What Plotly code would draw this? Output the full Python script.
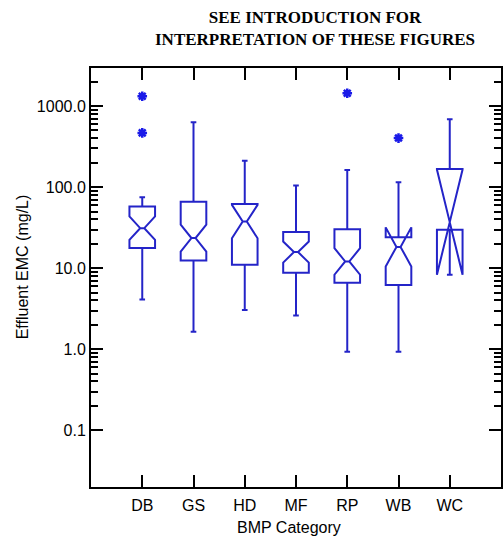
import numpy as np
import plotly.graph_objects as go

# ---- data (mg/L) ----
categories = ["DB", "GS", "HD", "MF", "RP", "WB", "WC"]
lower_whisker = [4.1, 1.64, 3.05, 2.6, 0.93, 0.93, 24.2]
q1_vals = [17.7, 12.4, 11.0, 8.8, 6.6, 6.2, 29.7]
median_vals = [31.2, 23.5, 37.6, 15.8, 12.1, 18.3, 37.0]
q3_vals = [57.6, 66.0, 62.0, 28.0, 30.3, 24.1, 167.0]
upper_whisker = [75.0, 630.0, 211.0, 105.0, 163.0, 115.0, 690.0]
notch_low = [22.4, 16.0, 23.4, 11.7, 8.3, 10.5, 8.3]
outlier_cats = ["DB", "DB", "RP", "WB"]
outlier_vals = [1320.0, 467.0, 1440.0, 403.0]
major_tick_vals = [0.1, 1.0, 10.0, 100.0, 1000.0]
major_tick_text = ["0.1", "1.0", "10.0", "100.0", "1000.0"]
minor_tick_vals = [m * 10.0 ** k for k in range(-1, 3) for m in range(2, 10)] + [2000.0]

BLUE = "#2424c8"
lg = np.log10

fig = go.Figure()
for i, cat in enumerate(categories):
    span = float(lg(median_vals[i]) - lg(notch_low[i]))
    fig.add_trace(go.Box(
        x=[cat],
        q1=[float(lg(q1_vals[i]))],
        median=[float(lg(median_vals[i]))],
        q3=[float(lg(q3_vals[i]))],
        lowerfence=[float(lg(lower_whisker[i]))],
        upperfence=[float(lg(upper_whisker[i]))],
        notchspan=[span],
        notched=True,
        notchwidth=0.5 if cat == "WC" else 0.42,
        whiskerwidth=0.22,
        width=0.5,
        boxpoints=False,
        fillcolor="rgba(0,0,0,0)",
        line=dict(color=BLUE, width=2),
        showlegend=False,
    ))

fig.add_trace(go.Scatter(
    x=outlier_cats, y=lg(np.array(outlier_vals)),
    mode="markers",
    marker=dict(symbol="asterisk-open", size=8, color="#1a1ae8",
                line=dict(color="#1a1ae8", width=2.5)),
    showlegend=False,
))

axis_font = dict(family="Liberation Sans, Arial, sans-serif", size=16, color="black")

fig.update_layout(
    width=504, height=538,
    margin=dict(l=91, r=1, t=68, b=51),
    paper_bgcolor="white", plot_bgcolor="white",
    xaxis=dict(
        type="category", categoryorder="array", categoryarray=categories,
        range=[-1, 7], showgrid=False, zeroline=False,
        showline=True, linecolor="black", linewidth=2, mirror="allticks",
        ticks="inside", ticklen=12, tickwidth=2, tickcolor="black",
        tickfont=axis_font, ticklabelstandoff=3,
    ),
    yaxis=dict(
        range=[-1.70, 3.47], showgrid=False, zeroline=False,
        showline=True, linecolor="black", linewidth=2, mirror="allticks",
        tickmode="array", tickvals=list(lg(np.array(major_tick_vals))),
        ticktext=major_tick_text,
        ticks="inside", ticklen=12, tickwidth=2, tickcolor="black",
        tickfont=axis_font,
        minor=dict(tickmode="array", tickvals=list(lg(np.array(minor_tick_vals))),
                   ticks="inside", ticklen=7, tickwidth=1.5, tickcolor="black"),
    ),
    annotations=[
        dict(text="<b>SEE INTRODUCTION FOR<br>INTERPRETATION OF THESE FIGURES</b>",
             xref="paper", yref="paper", x=(316 - 91) / 412, y=1 + (68 - 28) / 419,
             xanchor="center", yanchor="middle", showarrow=False, align="center",
             font=dict(family="Liberation Serif, Times New Roman, serif", size=17, color="black")),
        dict(text="BMP Category", xref="paper", yref="paper",
             x=(290 - 91) / 412, y=-(527 - 487) / 419,
             xanchor="center", yanchor="middle", showarrow=False, font=axis_font),
        dict(text="Effluent EMC (mg/L)", xref="paper", yref="paper",
             x=(22 - 91) / 412, y=(487 - 267) / 419, textangle=-90,
             xanchor="center", yanchor="middle", showarrow=False, font=axis_font),
    ],
)

fig.write_html("out.html")
